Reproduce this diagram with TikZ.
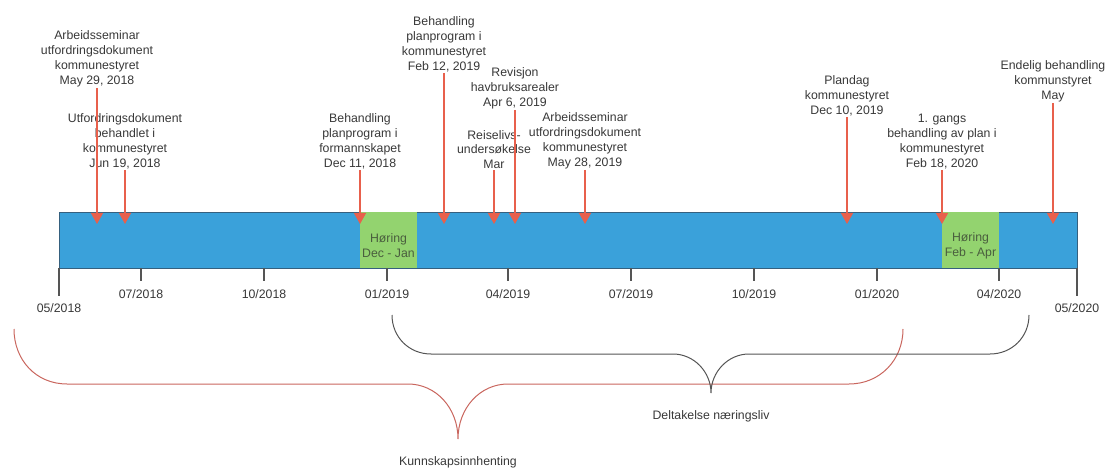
\documentclass[tikz,border=0pt]{standalone}
\usepackage{fontspec}
\setmainfont{Liberation Sans}
\usetikzlibrary{arrows.meta}
\definecolor{barblue}{HTML}{3AA1DA}
\definecolor{bardark}{HTML}{35607E}
\definecolor{horgreen}{HTML}{93D36F}
\definecolor{hortext}{HTML}{4A5E3E}
\definecolor{evred}{HTML}{E8604C}
\definecolor{txtgray}{HTML}{383838}
\definecolor{tickgray}{HTML}{555555}
\definecolor{bracered}{HTML}{C9665E}
\tikzset{
	event/.style={align=center, text=txtgray, font=\fontsize{12.3}{14.8}\selectfont, inner sep=1pt, anchor=south},
	evarrow/.style={-{Triangle[width=12pt,length=11pt]}, evred, line width=1.5pt},
	tickline/.style={tickgray, line width=1.5pt},
	ticklabel/.style={text=txtgray, font=\fontsize{12.3}{14.8}\selectfont, inner sep=0pt},
	horlabel/.style={align=center, text=hortext, font=\fontsize{12.3}{14.8}\selectfont, inner sep=0pt},
	bracelabel/.style={text=txtgray, font=\fontsize{12.3}{14.8}\selectfont, inner sep=0pt}
}
\begin{document}
\begin{tikzpicture}[x=1pt,y=-1pt]
			\useasboundingbox (0,0) rectangle (1108,470);
			\filldraw[fill=barblue, draw=bardark, line width=0.8pt] (59,212) rectangle (1077,268);
			\fill[horgreen] (360,212.4) rectangle (417,267.6);
			\fill[horgreen] (942,212.4) rectangle (999,267.6);
			\node[horlabel] (hor1) at (388.5,245.5) {Høring\\Dec - Jan};
			\node[horlabel] (hor2) at (970.5,245.5) {Høring\\Feb - Apr};
			\draw[tickline] (59,268) -- (59,296);
			\draw[tickline] (141,268) -- (141,281);
			\draw[tickline] (264,268) -- (264,281);
			\draw[tickline] (387,268) -- (387,281);
			\draw[tickline] (508,268) -- (508,281);
			\draw[tickline] (631,268) -- (631,281);
			\draw[tickline] (754,268) -- (754,281);
			\draw[tickline] (877,268) -- (877,281);
			\draw[tickline] (999,268) -- (999,281);
			\draw[tickline] (1077,268) -- (1077,296);
			\node[ticklabel] (m0518) at (59,308) {05/2018};
			\node[ticklabel] (m0718) at (141,294) {07/2018};
			\node[ticklabel] (m1018) at (264,294) {10/2018};
			\node[ticklabel] (m0119) at (387,294) {01/2019};
			\node[ticklabel] (m0419) at (508,294) {04/2019};
			\node[ticklabel] (m0719) at (631,294) {07/2019};
			\node[ticklabel] (m1019) at (754,294) {10/2019};
			\node[ticklabel] (m0120) at (877,294) {01/2020};
			\node[ticklabel] (m0420) at (999,294) {04/2020};
			\node[ticklabel] (m0520) at (1077,308) {05/2020};
			\node[event] (sem18) at (97,88) {Arbeidsseminar\\utfordringsdokument\\kommunestyret\\May 29, 2018};
			\node[event] (utf18) at (125,170) {Utfordringsdokument\\behandlet i\\kommunestyret\\Jun 19, 2018};
			\node[event] (plf18) at (360,170) {Behandling\\planprogram i\\formannskapet\\Dec 11, 2018};
			\node[event] (plk19) at (444,73) {Behandling\\planprogram i\\kommunestyret\\Feb 12, 2019};
			\node[event] (rls19) at (494,170) {Reiselivs-\\undersøkelse\\Mar};
			\node[event] (rev19) at (515,110) {Revisjon\\havbruksarealer\\Apr 6, 2019};
			\node[event] (sem19) at (585,170) {Arbeidsseminar\\utfordringsdokument\\kommunestyret\\May 28, 2019};
			\node[event] (pld19) at (847,117) {Plandag\\kommunestyret\\Dec 10, 2019};
			\node[event] (beh20) at (942,170) {1. gangs\\behandling av plan i\\kommunestyret\\Feb 18, 2020};
			\node[event] (end20) at (1053,103) {Endelig behandling\\kommunstyret\\May};
			\coordinate (sem18t) at (97,224);
			\coordinate (utf18t) at (125,224);
			\coordinate (plf18t) at (360,224);
			\coordinate (plk19t) at (444,224);
			\coordinate (rls19t) at (494,224);
			\coordinate (rev19t) at (515,224);
			\coordinate (sem19t) at (585,224);
			\coordinate (pld19t) at (847,224);
			\coordinate (beh20t) at (942,224);
			\coordinate (end20t) at (1053,224);
			\draw[evarrow] (sem18.south) -- (sem18t);
			\draw[evarrow] (utf18.south) -- (utf18t);
			\draw[evarrow] (plf18.south) -- (plf18t);
			\draw[evarrow] (plk19.south) -- (plk19t);
			\draw[evarrow] (rls19.south) -- (rls19t);
			\draw[evarrow] (rev19.south) -- (rev19t);
			\draw[evarrow] (sem19.south) -- (sem19t);
			\draw[evarrow] (pld19.south) -- (pld19t);
			\draw[evarrow] (beh20.south) -- (beh20t);
			\draw[evarrow] (end20.south) -- (end20t);
			\draw[bracered, line width=1pt] (14,329) .. controls (14,360) and (36,384) .. (67,384) -- (408,384) .. controls (436,384) and (458,408) .. (458,439) .. controls (458,408) and (480,384) .. (508,384) -- (849,384) .. controls (880,384) and (903,360) .. (903,329);
			\draw[tickgray, line width=1pt] (392,315) .. controls (392,337) and (409,354) .. (431,354) -- (673,354) .. controls (694,354) and (711,372) .. (711,393) .. controls (711,372) and (728,354) .. (749,354) -- (990,354) .. controls (1012,354) and (1029,337) .. (1029,315);
			\node[bracelabel] (delt) at (711,416) {Deltakelse næringsliv};
			\node[bracelabel] (kunn) at (458,462) {Kunnskapsinnhenting};
		\end{tikzpicture}
\end{document}
